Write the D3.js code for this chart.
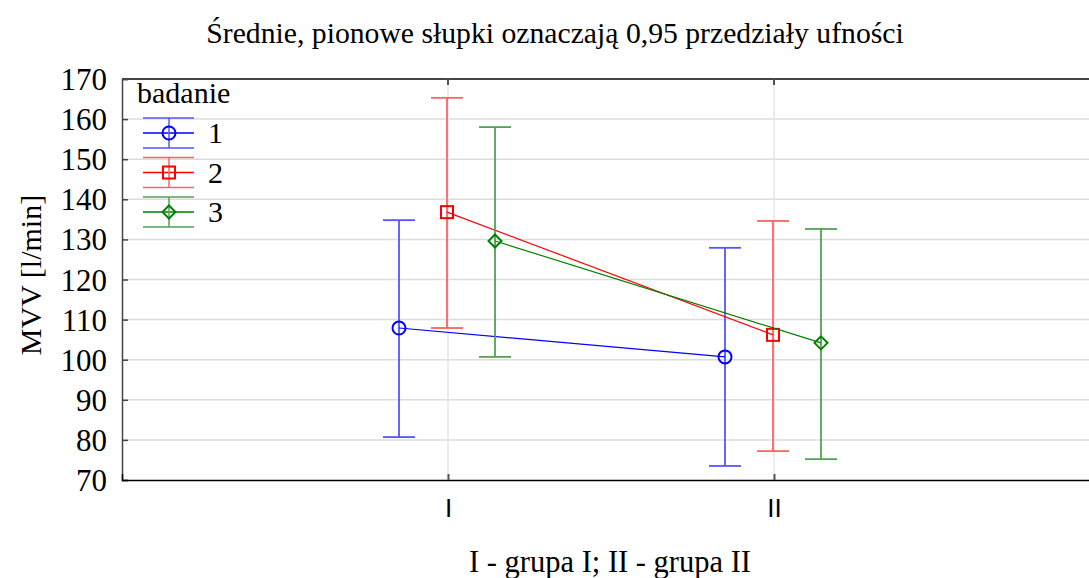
<!DOCTYPE html>
<html><head><meta charset="utf-8">
<script src="https://cdn.jsdelivr.net/npm/d3@7"></script>
<style>body{margin:0;background:#fff}svg{display:block}</style>
</head><body>
<svg id="c" width="1089" height="578"></svg>
<script>
const groups = ["I", "II"];
const series = ["1", "2", "3"];
const means = [[107.9, 100.7], [136.8, 106.2], [129.6, 104.2]];
const lower = [[80.7, 73.5], [107.9, 77.2], [100.7, 75.2]];
const upper = [[134.8, 127.9], [165.3, 134.6], [158.0, 132.6]];
const yTicks = [70, 80, 90, 100, 110, 120, 130, 140, 150, 160, 170];

const colors = ["#0000ff", "#ff0000", "#008000"];
const barColors = ["#5555ff", "#ff6262", "#52a252"];
const serif = "'Liberation Serif','Times New Roman',serif";
const sans = "'Liberation Sans',Arial,sans-serif";

const svg = d3.select("#c");
const L = 122, T = 79, R = 1089, B = 480;
const y = d3.scaleLinear().domain([70, 170]).range([B, T]);
const x = d3.scaleLinear().domain([0, 3]).range([L, L + 3 * 326]);
const off = d3.scaleLinear().domain([0, 2]).range([-49, 47]);

// grid
svg.append("g").selectAll("line").data(yTicks.slice(1, -1)).join("line")
  .attr("x1", L).attr("x2", R).attr("y1", d => y(d)).attr("y2", d => y(d))
  .attr("stroke", "#dcdcdc").attr("stroke-width", 1.5);
svg.append("g").selectAll("line").data([1, 2]).join("line")
  .attr("x1", d => x(d)).attr("x2", d => x(d)).attr("y1", T).attr("y2", B)
  .attr("stroke", "#e6e6e6").attr("stroke-width", 1.5);

// y axis
const yAxis = d3.axisLeft(y).tickValues(yTicks).tickSize(-6).tickPadding(15);
const ya = svg.append("g").attr("transform", `translate(${L},0)`).call(yAxis);
ya.select(".domain").attr("stroke", "#444").attr("stroke-width", 1.5);
ya.selectAll(".tick line").attr("stroke", "#444").attr("stroke-width", 1.5);
ya.selectAll("text").attr("font-family", serif).attr("font-size", 31).attr("fill", "#000").attr("dy", "0.34em");

// top border
svg.append("line").attr("x1", L).attr("x2", R).attr("y1", T).attr("y2", T)
  .attr("stroke", "#444").attr("stroke-width", 2);

// x axis
const xAxis = d3.axisBottom(x).tickValues([1, 2]).tickFormat((d, i) => groups[i]).tickSize(-6).tickPadding(0);
const xa = svg.append("g").attr("transform", `translate(0,${B})`).call(xAxis);
xa.select(".domain").attr("stroke", "#000").attr("stroke-width", 1.5);
xa.selectAll(".tick line").attr("stroke", "#555").attr("stroke-width", 2);
xa.selectAll("text").attr("font-family", sans).attr("font-size", 26).attr("fill", "#000")
  .attr("y", 37).attr("dy", 0);
// top ticks
svg.append("g").selectAll("line").data([1, 2]).join("line")
  .attr("x1", d => x(d)).attr("x2", d => x(d)).attr("y1", T).attr("y2", T + 6)
  .attr("stroke", "#555").attr("stroke-width", 2);

const cap = 16;
const markers = [
  (g, c) => g.append("circle").attr("r", 6.5).attr("fill", "none").attr("stroke", c).attr("stroke-width", 2),
  (g, c) => g.append("rect").attr("x", -6).attr("y", -6).attr("width", 12).attr("height", 12).attr("fill", "none").attr("stroke", c).attr("stroke-width", 2),
  (g, c) => g.append("path").attr("d", "M0,-6.5L6.5,0L0,6.5L-6.5,0Z").attr("fill", "none").attr("stroke", c).attr("stroke-width", 2)
];

series.forEach((s, si) => {
  const gx = i => x(i + 1) + off(si);
  const g = svg.append("g");
  groups.forEach((gr, gi) => {
    const cx = gx(gi);
    g.append("line").attr("x1", cx).attr("x2", cx).attr("y1", y(upper[si][gi])).attr("y2", y(lower[si][gi]))
      .attr("stroke", barColors[si]).attr("stroke-width", 1.8);
    [upper[si][gi], lower[si][gi]].forEach(v => {
      g.append("line").attr("x1", cx - cap).attr("x2", cx + cap).attr("y1", y(v)).attr("y2", y(v))
        .attr("stroke", barColors[si]).attr("stroke-width", 1.8);
    });
  });
  g.append("path").datum(means[si])
    .attr("d", d3.line().x((d, i) => gx(i)).y(d => y(d)))
    .attr("fill", "none").attr("stroke", colors[si]).attr("stroke-width", 1.2);
  groups.forEach((gr, gi) => {
    const mg = g.append("g").attr("transform", `translate(${gx(gi)},${y(means[si][gi])})`);
    markers[si](mg, colors[si]);
  });
});

// legend
svg.append("text").attr("x", 137).attr("y", 103).text("badanie")
  .attr("font-family", serif).attr("font-size", 30).attr("fill", "#000");
series.forEach((s, si) => {
  const cy = 133 + si * 39.5;
  const g = svg.append("g").attr("transform", `translate(169,${cy})`);
  [-15, 0, 15].forEach(dy => g.append("line").attr("x1", -26).attr("x2", 25).attr("y1", dy).attr("y2", dy)
    .attr("stroke", dy === 0 ? colors[si] : barColors[si]).attr("stroke-width", 1.5));
  g.append("line").attr("x1", 0).attr("x2", 0).attr("y1", -15).attr("y2", 15).attr("stroke", barColors[si]).attr("stroke-width", 1.5);
  markers[si](g, colors[si]);
  svg.append("text").attr("x", 208).attr("y", cy + 10).text(s)
    .attr("font-family", serif).attr("font-size", 30).attr("fill", "#000");
});

// titles
svg.append("text").attr("x", 555).attr("y", 43).attr("text-anchor", "middle")
  .text("Średnie, pionowe słupki oznaczają 0,95 przedziały ufności")
  .attr("font-family", serif).attr("font-size", 29.7).attr("fill", "#000");
svg.append("text").attr("x", 610).attr("y", 572).attr("text-anchor", "middle")
  .text("I - grupa I; II - grupa II")
  .attr("font-family", serif).attr("font-size", 30.5).attr("fill", "#000");
svg.append("text").attr("transform", "translate(41,275) rotate(-90)").attr("text-anchor", "middle")
  .text("MVV [l/min]")
  .attr("font-family", serif).attr("font-size", 30).attr("fill", "#000");
</script>
</body></html>
